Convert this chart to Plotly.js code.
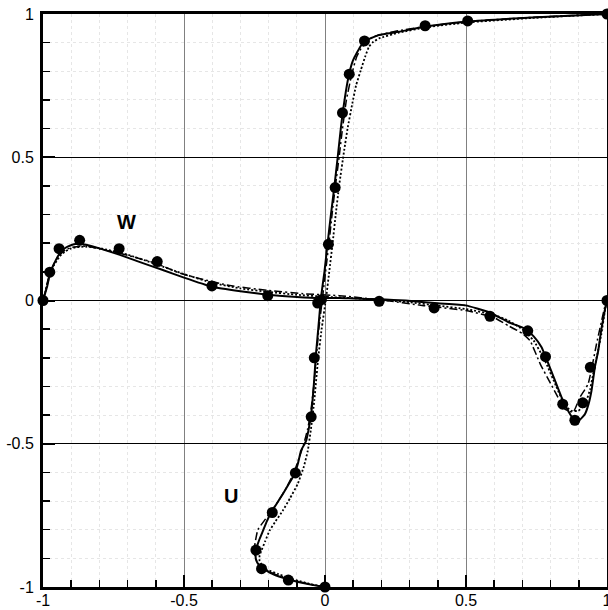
<!DOCTYPE html>
<html><head><meta charset="utf-8">
<script src="https://cdn.plot.ly/plotly-3.0.1.min.js"></script>
<style>html,body{margin:0;padding:0;background:#fff;}</style>
</head><body>
<div id="chart" style="width:608px;height:610px;"></div>
<script>
// W profile (x = coordinate, y = W)
const wSolidX = [-1, -0.985, -0.974, -0.955, -0.938, -0.92, -0.903, -0.885, -0.868, -0.84, -0.797, -0.73, -0.656, -0.58, -0.5, -0.403, -0.3, -0.203, -0.1, -0.02, 0.05, 0.1, 0.2, 0.286, 0.4, 0.498, 0.58, 0.651, 0.71, 0.74, 0.768, 0.8, 0.839, 0.865, 0.886, 0.905, 0.922, 0.935, 0.945, 0.957, 0.969, 0.98, 0.992, 1];
const wSolidY = [0, 0.05, 0.099, 0.14, 0.169, 0.184, 0.192, 0.197, 0.198, 0.193, 0.181, 0.16, 0.134, 0.108, 0.08, 0.049, 0.032, 0.02, 0.012, 0.008, 0.009, 0.007, 0.004, 0, -0.01, -0.017, -0.04, -0.076, -0.099, -0.125, -0.163, -0.24, -0.338, -0.39, -0.42, -0.415, -0.396, -0.36, -0.315, -0.233, -0.175, -0.1, -0.035, 0];
const wDashX = [-1, -0.98, -0.96, -0.94, -0.92, -0.9, -0.88, -0.86, -0.83, -0.8, -0.75, -0.7, -0.6, -0.514, -0.45, -0.338, -0.2, -0.067, 0.05, 0.2, 0.35, 0.5, 0.6, 0.65, 0.7, 0.727, 0.763, 0.804, 0.851, 0.88, 0.904, 0.933, 0.963, 0.992, 1];
const wDashY = [0, 0.08, 0.13, 0.16, 0.177, 0.185, 0.188, 0.19, 0.187, 0.18, 0.17, 0.158, 0.13, 0.095, 0.078, 0.052, 0.035, 0.023, 0.017, 0.002, -0.018, -0.035, -0.06, -0.088, -0.115, -0.14, -0.221, -0.297, -0.379, -0.39, -0.338, -0.291, -0.151, -0.023, 0];
const wDotX = [-1, -0.98, -0.96, -0.94, -0.92, -0.9, -0.88, -0.85, -0.8, -0.7, -0.6, -0.5, -0.4, -0.3, -0.2, -0.1, 0, 0.1, 0.2, 0.3, 0.4, 0.5, 0.6, 0.65, 0.7, 0.74, 0.78, 0.82, 0.851, 0.875, 0.898, 0.915, 0.927, 0.94, 0.951, 0.965, 0.98, 0.992, 1];
const wDotY = [0, 0.075, 0.125, 0.155, 0.172, 0.182, 0.186, 0.188, 0.183, 0.16, 0.127, 0.092, 0.062, 0.042, 0.03, 0.02, 0.013, 0.008, 0.002, -0.006, -0.018, -0.03, -0.05, -0.07, -0.1, -0.14, -0.21, -0.3, -0.367, -0.385, -0.385, -0.37, -0.35, -0.31, -0.256, -0.19, -0.117, -0.04, 0];
const wPtsX = [-1, -0.976, -0.943, -0.870, -0.730, -0.595, -0.401, -0.203, -0.026, 0.192, 0.387, 0.585, 0.719, 0.782, 0.843, 0.886, 0.914, 0.941, 1];
const wPtsY = [0, 0.099, 0.181, 0.210, 0.181, 0.136, 0.051, 0.017, -0.009, -0.003, -0.026, -0.055, -0.106, -0.196, -0.362, -0.418, -0.357, -0.233, 0];

// U profile (x = U, y = coordinate)
const uSolidY = [-1, -0.99, -0.973, -0.955, -0.932, -0.915, -0.903, -0.885, -0.868, -0.835, -0.804, -0.77, -0.74, -0.71, -0.676, -0.64, -0.606, -0.565, -0.524, -0.49, -0.45, -0.396, -0.3, -0.186, -0.1, 0.012, 0.1, 0.198, 0.3, 0.396, 0.5, 0.6, 0.664, 0.73, 0.793, 0.835, 0.868, 0.89, 0.907, 0.927, 0.938, 0.956, 0.973, 0.988, 1];
const uSolidX = [0, -0.06, -0.132, -0.185, -0.226, -0.24, -0.245, -0.246, -0.244, -0.233, -0.22, -0.206, -0.191, -0.172, -0.15, -0.128, -0.108, -0.095, -0.085, -0.067, -0.058, -0.049, -0.04, -0.032, -0.024, -0.014, -0.002, 0.009, 0.021, 0.033, 0.045, 0.056, 0.064, 0.074, 0.086, 0.098, 0.115, 0.128, 0.145, 0.192, 0.262, 0.357, 0.498, 0.733, 1];
const uDashY = [-1, -0.99, -0.973, -0.955, -0.935, -0.915, -0.9, -0.88, -0.86, -0.83, -0.8, -0.752, -0.7, -0.65, -0.6, -0.55, -0.5, -0.45, -0.4, -0.3, -0.2, -0.1, 0, 0.1, 0.2, 0.3, 0.4, 0.5, 0.6, 0.7, 0.79, 0.85, 0.88, 0.9, 0.92, 0.94, 0.956, 0.973, 0.988, 1];
const uDashX = [0, -0.055, -0.125, -0.178, -0.22, -0.238, -0.246, -0.25, -0.25, -0.245, -0.238, -0.203, -0.165, -0.135, -0.11, -0.092, -0.075, -0.062, -0.052, -0.04, -0.031, -0.022, -0.01, 0.002, 0.014, 0.025, 0.037, 0.05, 0.062, 0.076, 0.095, 0.112, 0.128, 0.145, 0.17, 0.25, 0.357, 0.498, 0.733, 1];
const uDotY = [-1, -0.99, -0.973, -0.955, -0.938, -0.92, -0.909, -0.89, -0.874, -0.84, -0.804, -0.77, -0.734, -0.69, -0.641, -0.58, -0.524, -0.45, -0.35, -0.2, -0.1, 0.01, 0.1, 0.2, 0.3, 0.4, 0.524, 0.6, 0.688, 0.75, 0.804, 0.85, 0.886, 0.9, 0.915, 0.935, 0.953, 0.97, 0.986, 1];
const uDotX = [0, -0.05, -0.114, -0.165, -0.208, -0.226, -0.232, -0.232, -0.226, -0.212, -0.197, -0.175, -0.15, -0.124, -0.097, -0.075, -0.061, -0.05, -0.038, -0.024, -0.012, 0.004, 0.015, 0.027, 0.038, 0.05, 0.068, 0.08, 0.097, 0.11, 0.127, 0.142, 0.156, 0.168, 0.192, 0.262, 0.357, 0.498, 0.733, 1];
const uPtsX = [0, -0.130, -0.225, -0.245, -0.187, -0.105, -0.049, -0.038, -0.013, 0.012, 0.036, 0.062, 0.086, 0.140, 0.355, 0.506, 1];
const uPtsY = [-1, -0.976, -0.936, -0.871, -0.740, -0.602, -0.406, -0.200, 0.003, 0.196, 0.394, 0.655, 0.790, 0.906, 0.959, 0.976, 1];

const tickVals = [-1, -0.5, 0, 0.5, 1];
const tickText = ['-1', '-0.5', '0', '0.5', '1'];
const labelText = ['W', 'U'];
const labelX = [-0.705, -0.334];
const labelY = [0.273, -0.682];

const solid = {color: '#000', width: 2};
const dashed = {color: '#000', width: 1.5, dash: '8px,3px,2px,3px'};
const dotted = {color: '#000', width: 1.8, dash: '2px,2px'};
const mk = {color: '#000', size: 11};

const traces = [
  {x: wSolidX, y: wSolidY, mode: 'lines', line: solid},
  {x: wDashX, y: wDashY, mode: 'lines', line: dashed},
  {x: wDotX, y: wDotY, mode: 'lines', line: dotted},
  {x: uSolidX, y: uSolidY, mode: 'lines', line: solid},
  {x: uDashX, y: uDashY, mode: 'lines', line: dashed},
  {x: uDotX, y: uDotY, mode: 'lines', line: dotted},
  {x: wPtsX, y: wPtsY, mode: 'markers', marker: mk},
  {x: uPtsX, y: uPtsY, mode: 'markers', marker: mk}
].map(t => Object.assign({type: 'scatter', showlegend: false, hoverinfo: 'skip', cliponaxis: false}, t));
traces.forEach(t => { if (t.mode === 'lines') { t.line = Object.assign({}, t.line, {shape: 'spline', smoothing: 0.4}); } });

const axisCommon = {
  range: [-1, 1], tickvals: tickVals, ticktext: tickText,
  showline: true, linecolor: '#000', linewidth: 3, mirror: true,
  ticks: 'inside', ticklen: 12, tickwidth: 2, tickcolor: '#000',
  zeroline: false, showgrid: true, gridwidth: 1, ticklabeloverflow: 'allow',
  tickfont: {family: 'Liberation Sans, Arial, sans-serif', size: 16, color: '#000'},
  minor: {dtick: 0.1, ticks: 'inside', ticklen: 7, tickwidth: 1.5, tickcolor: '#000',
          showgrid: true, gridcolor: '#e6e6e6', griddash: 'dot', gridwidth: 1}
};

const layout = {
  width: 608, height: 610,
  margin: {l: 43, r: 1, t: 14, b: 23},
  paper_bgcolor: '#fff', plot_bgcolor: '#fff',
  xaxis: Object.assign({}, axisCommon, {gridcolor: '#808080', ticklabelstandoff: -3}),
  yaxis: Object.assign({}, axisCommon, {gridcolor: '#000', ticklabelstandoff: 3}),
  annotations: labelText.map((t, i) => ({
    x: labelX[i], y: labelY[i], xref: 'x', yref: 'y', text: '<b>' + t + '</b>', showarrow: false,
    font: {family: 'Liberation Sans, Arial, sans-serif', size: 20, color: '#000'}
  }))
};

Plotly.newPlot('chart', traces, layout, {displayModeBar: false, staticPlot: true});
</script>
</body></html>
